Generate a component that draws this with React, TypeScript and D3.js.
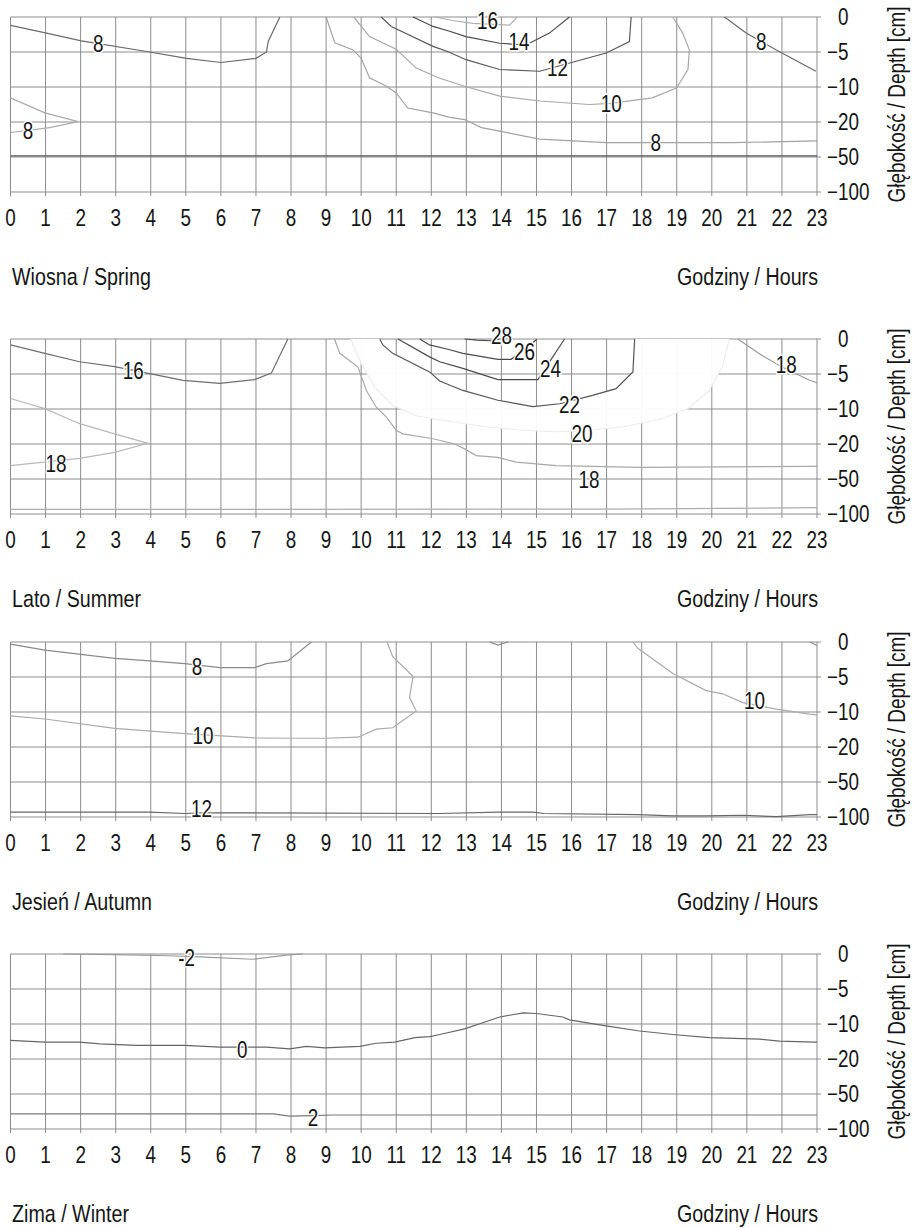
import React from 'react';
import * as d3 from 'd3';

// hours on the x axis, depth levels on the y axis (equal spacing per level)
const hours = d3.range(0, 24);
const depthLevels = [0, -5, -10, -20, -50, -100];
const depthLabels = ['0', '−5', '−10', '−20', '−50', '−100'];

const seasonTitles = ['Wiosna / Spring', 'Lato / Summer', 'Jesień / Autumn', 'Zima / Winter'];
const hourTitle = 'Godziny / Hours';
const depthTitle = 'Głębokość / Depth [cm]';

type Pt = [number, number]; // [hour, depth cm]
interface Contour {
  level: number | null;
  points: Pt[];
  label?: Pt;
}

// Wiosna / Spring
const springContours: Contour[] = [
  { level: 8, points: [[0, -1.2], [0.93, -2.2], [2.02, -3.4], [3.97, -5], [5.02, -5.9], [6, -6.5], [7, -5.9], [7.3, -5], [7.35, -3.5], [7.68, 0]], label: [2.5, -3.8] },
  { level: 8, points: [[0, -13.1], [0.98, -17.4], [1.93, -19.9], [1.12, -24.8], [0, -29]], label: [0.5, -27.5] },
  { level: 8, points: [[9, 0], [9.25, -3.7], [9.77, -4.7], [10, -5.9], [10.24, -8.7], [10.72, -9.9], [11, -11.7], [11.33, -16], [12.05, -17.4], [12.5, -18.6], [12.95, -19.3], [13.43, -24.8], [13.95, -27.8], [15.09, -34.7], [17, -37.7], [20.6, -37.7], [23, -36.2]], label: [18.4, -37.7] },
  { level: 10, points: [[9.79, 0], [10.24, -2.8], [11, -4.6], [11.57, -7.3], [12.24, -8.75], [12.95, -9.9], [13.95, -12.6], [15.1, -14], [16.5, -15], [17.13, -14.7], [18.3, -13.1], [18.99, -10.3], [19.32, -7.5], [19.36, -4.7], [19.17, -2.3], [18.89, 0]], label: [17.13, -14.7] },
  { level: 12, points: [[10.57, 0], [10.86, -1.35], [12.05, -4.2], [12.5, -5], [12.99, -6.1], [13.95, -7.5], [15.09, -7.75], [16.99, -5.15], [17.65, -3.5], [17.7, 0]], label: [15.6, -7.2] },
  { level: 14, points: [[11.48, 0], [12.05, -1.35], [12.5, -2], [12.99, -2.8], [13.95, -3.75], [14.7, -4], [15.37, -2.3], [15.94, 0]], label: [14.5, -3.5] },
  { level: 16, points: [[12.1, 0], [12.6, -0.5], [13.19, -0.9], [14.23, -1.15], [14.45, 0]], label: [13.6, -0.5] },
  { level: 8, points: [[20.36, 0], [20.98, -2.3], [21.41, -3.5], [21.84, -4.7], [22.97, -7.75]], label: [21.41, -3.5] },
  { level: null, points: [[0, -49.1], [23, -49.1]] },
];
const springTones = ['#6a6a6a', '#ababab', '#a2a2a2', '#a8a8a8', '#5a5a5a', '#4a4a4a', '#b0b0b0', '#6a6a6a', '#555555'];

// Lato / Summer
const summerContours: Contour[] = [
  { level: 16, points: [[0, -0.85], [0.98, -2.05], [1.97, -3.25], [2.97, -3.95], [3.97, -4.95], [4.92, -5.9], [5.97, -6.35], [6.96, -5.8], [7.44, -4.85], [7.91, 0]], label: [3.5, -4.55] },
  { level: 18, points: [[0, -8.5], [0.98, -9.95], [1.97, -14.2], [2.97, -17.1], [3.92, -19.8], [2.97, -27.2], [1.97, -32.3], [0, -38.6]], label: [1.3, -37] },
  { level: 18, points: [[9.24, 0], [9.39, -2.05], [9.91, -4], [10.15, -7.35], [10.43, -9.75], [10.72, -12.3], [11, -16.1], [11.19, -17.1], [12.05, -18.5], [12.67, -20], [12.95, -24.2], [13.28, -29.9], [13.9, -31.4], [14.42, -35.6], [15.56, -38.6], [17.94, -40.1], [22.8, -39.2], [23, -39.2]], label: [16.5, -51] },
  { level: 20, points: [[9.7, 0], [10, -3.5], [10.4, -7], [10.9, -9.5], [11.6, -12], [12.5, -13.5], [13.5, -15], [14.5, -16], [15.5, -16.5], [16.5, -16.2], [17.5, -15], [18.5, -13], [19.3, -10], [19.9, -7.5], [20.3, -4], [20.5, 0]], label: [16.3, -17] },
  { level: 22, points: [[10.53, 0], [10.62, -0.85], [10.9, -2.05], [11.95, -4.7], [12.24, -6], [12.9, -7.35], [13.9, -8.75], [14.9, -9.65], [15.66, -9.25], [16.6, -8.05], [17.27, -7.1], [17.75, -4.7], [17.8, 0]], label: [15.94, -9.35] },
  { level: 24, points: [[11.05, 0], [11.95, -2.55], [12.24, -3.25], [12.9, -4.2], [13.9, -5.8], [15.04, -5.8], [15.8, 0]], label: [15.4, -4.3] },
  { level: 26, points: [[11.67, 0], [11.95, -0.85], [12.5, -1.5], [12.9, -2.05], [13.9, -2.9], [14.28, -2.9], [14.99, -0.15], [15, 0]], label: [14.66, -1.8] },
  { level: 28, points: [[12.95, 0], [13.3, -0.15], [13.71, -0.25], [13.95, 0]], label: [14, 0.5] },
  { level: 18, points: [[20.74, 0], [21.4, -2.25], [22, -4], [22.79, -5.9], [23, -6.25]], label: [22.12, -3.75] },
  { level: null, points: [[0, -93.5], [17, -93], [23, -91]] },
];
const summerTones = ['#6e6e6e', '#b8b8b8', '#a8a8a8', '#ececec', '#555555', '#4a4a4a', '#4a4a4a', '#4a4a4a', '#9a9a9a', '#adadad'];

// Jesień / Autumn
const autumnContours: Contour[] = [
  { level: 8, points: [[0, -0.3], [0.98, -1.15], [2.97, -2.35], [3.97, -2.7], [4.97, -3.1], [5.97, -3.65], [6.96, -3.65], [7.3, -3.1], [7.91, -2.7], [8.58, 0]], label: [5.32, -3.55] },
  { level: 10, points: [[0, -11.1], [0.98, -12], [2.97, -14.7], [4.97, -16.2], [6.96, -17.4], [7.91, -17.5], [8.96, -17.5], [9.91, -17.2], [10.43, -14.9], [10.9, -14.5], [11.57, -9.85], [11.38, -7.9], [11.48, -4.9], [10.9, -2.1], [10.74, 0]], label: [5.49, -16.9] },
  { level: 10, points: [[17.75, 0], [17.89, -0.9], [18.89, -4.5], [19.84, -6.95], [20.31, -7.4], [20.88, -8.65], [21.84, -9.6], [22.79, -10.6], [23, -10.8]], label: [21.22, -8.4] },
  { level: 10, points: [[13.66, 0], [13.9, -0.45], [14.19, 0]] },
  { level: 10, points: [[22.8, 0], [23, -0.5]] },
  { level: 12, points: [[0, -93], [3.97, -93], [4.97, -95], [5.5, -94], [12.24, -95], [13.9, -93], [14.9, -93], [15.2, -95], [17.89, -96.5], [18.89, -98.5], [19.84, -98.5], [20.88, -97.5], [21.84, -99.5], [22.79, -96.5], [23, -96.5]], label: [5.45, -88] },
];
const autumnTones = ['#8a8a8a', '#aaaaaa', '#aaaaaa', '#8a8a8a', '#8a8a8a', '#666666'];

// Zima / Winter
const winterContours: Contour[] = [
  { level: -2, points: [[1.5, 0], [3, -0.1], [4.5, -0.25], [5.4, -0.4], [6.9, -0.75], [7.87, -0.15], [8.34, 0]], label: [5.02, -0.5] },
  { level: 0, points: [[0, -14.7], [0.98, -15.2], [1.97, -15.2], [2.55, -15.7], [3.59, -16.1], [4.97, -16.1], [5.97, -16.6], [7.3, -16.6], [7.96, -17.1], [8.44, -16.4], [8.96, -16.8], [9.96, -16.4], [10.43, -15.5], [10.96, -15.2], [11.53, -13.9], [11.96, -13.6], [12.24, -13], [12.95, -11.4], [13.95, -9], [14.62, -8.4], [15, -8.5], [15.75, -9], [15.94, -9.4], [16.89, -10.4], [17.94, -12], [18.89, -13], [19.93, -13.9], [21.36, -14.3], [21.93, -14.9], [22.93, -15.2], [23, -15.2]], label: [6.61, -17.4] },
  { level: 2, points: [[0, -78.5], [7.5, -78.5], [7.96, -81.5], [8.6, -81], [9.2, -80], [23, -80]], label: [8.63, -84] },
];
const winterTones = ['#9a9a9a', '#666666', '#7a7a7a'];

const panelTops = [17, 339, 642, 954];
const FONT = "'Liberation Sans', Arial, sans-serif";
const NARROW = 0.82; // the original uses a condensed face

// text squeezed horizontally to imitate the narrow font
const T: React.FC<{ x: number; y: number; rotate?: number; anchor?: string; size: number; baseline?: string; halo?: boolean; children: React.ReactNode }> =
  ({ x, y, rotate = 0, anchor = 'start', size, baseline, halo, children }) => (
    <text
      transform={`translate(${x},${y}) rotate(${rotate}) scale(${NARROW},1)`}
      textAnchor={anchor}
      dominantBaseline={baseline}
      fontSize={size}
      fill="#151515"
      stroke={halo ? '#fff' : undefined}
      strokeWidth={halo ? 3 : undefined}
      paintOrder="stroke"
    >
      {children}
    </text>
  );

interface PanelProps {
  top: number;
  title: string;
  contours: Contour[];
  tones: string[];
  band?: [number, number];
}

const Panel: React.FC<PanelProps> = ({ top, title, contours, tones, band }) => {
  const x = d3.scaleLinear().domain([0, 23]).range([10.5, 817]);
  const y = d3.scaleLinear()
    .domain(depthLevels)
    .range(depthLevels.map((_, i) => top + i * 35));
  const bottom = y(-100);
  const line = d3.line<Pt>().x(d => x(d[0])).y(d => y(d[1]));

  // white filled band between two contour levels (hides the grid there)
  let bandPath: string | null = null;
  if (band) {
    const outer = contours.find(c => c.level === band[0]);
    const inner = contours.find(c => c.level === band[1]);
    if (outer && inner) bandPath = line(outer.points) + 'Z' + line(inner.points) + 'Z';
  }

  return (
    <g>
      {/* grid */}
      {hours.map(h => (
        <line key={'v' + h} x1={x(h)} x2={x(h)} y1={top} y2={bottom + 4} stroke="#8c8c8c" strokeWidth={1} />
      ))}
      {depthLevels.map(d => (
        <line key={'h' + d} x1={x(0)} x2={x(23) + 4} y1={y(d)} y2={y(d)} stroke="#8c8c8c" strokeWidth={1} />
      ))}
      {bandPath && <path d={bandPath} fill="#fff" fillOpacity={0.94} fillRule="evenodd" stroke="none" />}

      {/* contours */}
      {contours.map((c, i) => (
        <path key={'c' + i} d={line(c.points) || ''} fill="none" stroke={tones[i]} strokeWidth={1.2} />
      ))}
      {contours.map((c, i) =>
        c.label && c.level !== null ? (
          <T key={'l' + i} x={x(c.label[0])} y={y(c.label[1])} anchor="middle" baseline="central" size={23} halo>
            {c.level < 0 ? '-' + Math.abs(c.level) : String(c.level)}
          </T>
        ) : null
      )}

      {/* x tick labels */}
      {hours.map(h => (
        <T key={'xt' + h} x={x(h)} y={bottom + 26} anchor="middle" baseline="central" size={23}>
          {h}
        </T>
      ))}
      {/* y tick labels */}
      {depthLevels.map((d, i) => (
        <T key={'yt' + d} x={d === 0 ? 838 : 827} y={y(d)} baseline="central" size={23}>
          {depthLabels[i]}
        </T>
      ))}
      <T x={905} y={(top + bottom) / 2} rotate={-90} anchor="middle" size={23}>
        {depthTitle}
      </T>

      <T x={12} y={bottom + 93} size={24}>{title}</T>
      <T x={818} y={bottom + 93} anchor="end" size={24}>{hourTitle}</T>
    </g>
  );
};

export default function App() {
  const panels = [
    { contours: springContours, tones: springTones },
    { contours: summerContours, tones: summerTones, band: [20, 22] as [number, number] },
    { contours: autumnContours, tones: autumnTones },
    { contours: winterContours, tones: winterTones },
  ];
  return (
    <svg width={915} height={1228} style={{ position: 'absolute', left: 0, top: 0, background: '#fff' }} fontFamily={FONT}>
      <rect width={915} height={1228} fill="#fff" />
      {panels.map((p, i) => (
        <Panel key={i} top={panelTops[i]} title={seasonTitles[i]} contours={p.contours} tones={p.tones} band={p.band} />
      ))}
    </svg>
  );
}
